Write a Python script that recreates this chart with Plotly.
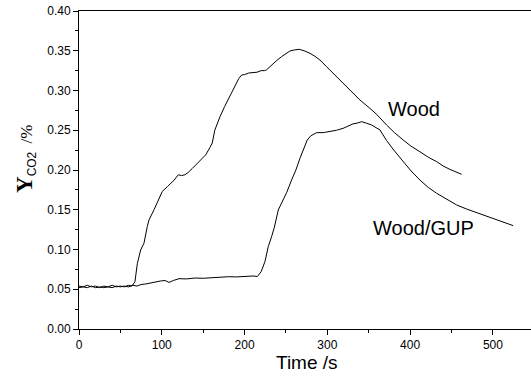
import plotly.graph_objects as go

wood_t = [0, 5, 10, 15, 20, 25, 30, 35, 40, 45, 50, 55, 60, 64, 67.6, 70.5, 74.5, 78.5, 82.5, 84.5,
          90.6, 94.6, 100.6, 106.7, 114.7, 120, 124, 128, 132, 136.9, 142, 147, 153, 158, 161, 164,
          167, 170.3, 176, 182.4, 188, 193, 196.5, 200, 205, 210.5, 215, 220, 224, 226.6, 232.6, 238,
          244.7, 250, 254.8, 260, 266, 272, 279, 285, 291, 299, 307, 315, 323.3, 331, 339.4, 351.4,
          359.5, 371.6, 381, 391.7, 401, 411.8, 422, 432, 440, 448, 455, 462.2]
wood_y = [0.054, 0.053, 0.055, 0.053, 0.054, 0.052, 0.054, 0.053, 0.055, 0.053, 0.054, 0.053, 0.055,
          0.054, 0.0595, 0.0826, 0.0994, 0.108, 0.129, 0.137, 0.150, 0.160, 0.173, 0.179, 0.187, 0.194,
          0.193, 0.194, 0.197, 0.202, 0.207, 0.2126, 0.219, 0.228, 0.234, 0.250, 0.259, 0.267, 0.280,
          0.294, 0.305, 0.315, 0.3195, 0.320, 0.322, 0.3225, 0.323, 0.325, 0.325, 0.326, 0.332, 0.337,
          0.3426, 0.346, 0.3497, 0.351, 0.3518, 0.350, 0.3468, 0.343, 0.3384, 0.330, 0.3216, 0.313,
          0.3048, 0.296, 0.288, 0.2776, 0.270, 0.2566, 0.247, 0.2377, 0.230, 0.223, 0.216, 0.2105,
          0.205, 0.2008, 0.198, 0.1946]

gup_t = [0, 5, 10, 15, 20, 25, 30, 35, 40, 45, 50, 55, 60, 65, 70, 75, 80.5, 86, 92, 98.6, 104, 108.7,
         114, 120.8, 130, 140, 150, 160, 170, 181, 190, 200, 210.5, 215.4, 220, 224.6, 228.6, 232.6,
         236, 240.7, 246.8, 251, 256.8, 262, 266.9, 271, 275.7, 280, 287, 295, 303, 311, 319, 325,
         331, 336, 341.4, 347, 353.5, 363.6, 371.6, 381, 391.7, 401, 411.8, 422, 432, 444, 456.2, 468,
         480.3, 492, 504.4, 515, 524.5]
gup_y = [0.052, 0.053, 0.052, 0.054, 0.052, 0.053, 0.052, 0.053, 0.052, 0.054, 0.053, 0.054, 0.053,
         0.055, 0.054, 0.056, 0.0566, 0.058, 0.059, 0.0604, 0.061, 0.0586, 0.061, 0.0633, 0.063,
         0.0641, 0.0638, 0.0645, 0.065, 0.0658, 0.0655, 0.066, 0.0667, 0.066, 0.072, 0.0847, 0.1035,
         0.116, 0.128, 0.1497, 0.162, 0.172, 0.1874, 0.200, 0.2147, 0.226, 0.2377, 0.243, 0.247, 0.247,
         0.2482, 0.250, 0.2524, 0.255, 0.258, 0.259, 0.2608, 0.259, 0.2566, 0.2503, 0.237, 0.224,
         0.2105, 0.199, 0.1874, 0.178, 0.1707, 0.163, 0.156, 0.151, 0.1463, 0.1415, 0.137, 0.133,
         0.130]

x_ticks = [0, 100, 200, 300, 400, 500]
y_ticks = [0.00, 0.05, 0.10, 0.15, 0.20, 0.25, 0.30, 0.35, 0.40]
y_tick_text = ["%.2f" % v for v in y_ticks]

assert len(wood_t) == len(wood_y)
assert len(gup_t) == len(gup_y)

fig = go.Figure()
fig.add_trace(go.Scatter(x=wood_t, y=wood_y, mode="lines",
                         line=dict(color="black", width=1), showlegend=False))
fig.add_trace(go.Scatter(x=gup_t, y=gup_y, mode="lines",
                         line=dict(color="black", width=1), showlegend=False))

fig.add_annotation(x=404.6, y=0.2767, text="Wood", showarrow=False,
                   font=dict(family="Liberation Sans, Arial", size=20, color="black"))
fig.add_annotation(x=415.8, y=0.127, text="Wood/GUP", showarrow=False,
                   font=dict(family="Liberation Sans, Arial", size=20, color="black"))

# x-axis title
fig.add_annotation(xref="paper", yref="paper", x=0.505, y=-0.1462, xanchor="center",
                   yanchor="bottom", showarrow=False, text="Time /s",
                   font=dict(family="Liberation Sans, Arial", size=19, color="black"))

# y-axis title as a rotated annotation
fig.add_annotation(
    xref="paper", yref="paper", x=-0.117, y=0.535, xanchor="center", yanchor="middle",
    textangle=-90, showarrow=False,
    text="<span style=\"font-family:'Liberation Serif';font-size:23px\"><b>Y</b></span>"
         "<sub>CO2</sub>"
         "<span style=\"font-family:'Liberation Serif'\">  /%</span>",
    font=dict(family="Liberation Sans, Arial", size=17, color="black"))

fig.update_layout(
    width=531, height=376,
    margin=dict(l=79, r=0, t=11, b=47),
    paper_bgcolor="white", plot_bgcolor="white",
    font=dict(family="Liberation Sans, Arial", color="black"),
    xaxis=dict(range=[0, 546], tickvals=x_ticks, ticks="outside", ticklen=5, tickwidth=1,
               tickcolor="black", showline=True, linecolor="black", linewidth=1, mirror=True,
               showgrid=False, zeroline=False, tickfont=dict(size=12),
               minor=dict(dtick=50, ticks="outside", ticklen=3, tickcolor="black")),
    yaxis=dict(range=[0, 0.40], tickvals=y_ticks, ticktext=y_tick_text, ticks="outside", ticklen=5,
               tickwidth=1, tickcolor="black", showline=True, linecolor="black", linewidth=1,
               showgrid=False, zeroline=False, tickfont=dict(size=12),
               minor=dict(dtick=0.025, ticks="outside", ticklen=3, tickcolor="black")),
)

fig.write_html("out.html", config={"displayModeBar": False},
               post_script="document.body.style.margin='0';document.body.style.overflow='hidden';")
